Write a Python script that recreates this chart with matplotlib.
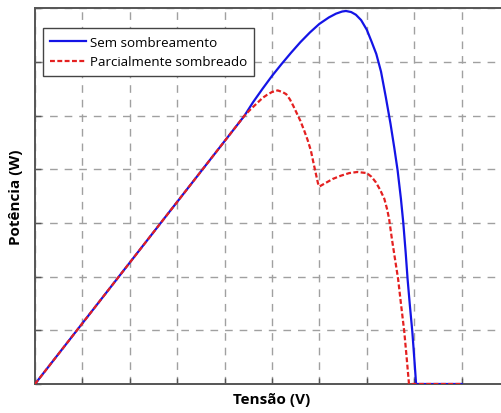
import matplotlib
matplotlib.use("Agg")
import matplotlib.pyplot as plt

# Curve data (x: voltage in grid units, y: power in grid units)
v_sem = [0.0, 4.42, 4.6, 4.8, 5.0, 5.2, 5.4, 5.6, 5.8, 6.0, 6.2, 6.35, 6.48,
         6.56, 6.67, 6.77, 6.88, 7.0, 7.1, 7.2, 7.3, 7.4, 7.5, 7.58,
         7.65, 7.72, 7.77, 7.82, 7.86, 7.91, 7.96, 8.0, 8.04, 9.0]
p_sem = [0.0, 5.0, 5.25, 5.5, 5.74, 5.96, 6.17, 6.37, 6.55, 6.71, 6.83, 6.9, 6.94,
         6.95, 6.93, 6.88, 6.78, 6.6, 6.38, 6.15, 5.82, 5.35, 4.85, 4.4,
         3.98, 3.45, 3.0, 2.45, 1.96, 1.45, 0.98, 0.5, 0.0, 0.0]

v_parc = [0.0, 4.42, 4.55, 4.67, 4.8, 4.9, 5.0, 5.12, 5.22, 5.3, 5.38, 5.45, 5.52,
          5.6, 5.68, 5.75, 5.82, 5.88, 5.93, 5.97, 6.0, 6.1, 6.28, 6.45, 6.63, 6.8,
          7.0, 7.1, 7.19, 7.28, 7.37, 7.43, 7.47, 7.53, 7.6, 7.66, 7.72, 7.79, 7.84,
          7.89, 9.0]
p_parc = [0.0, 5.0, 5.12, 5.22, 5.33, 5.39, 5.44, 5.47, 5.44, 5.4, 5.3, 5.18, 5.05,
          4.9, 4.72, 4.55, 4.35, 4.1, 3.9, 3.74, 3.68, 3.73, 3.82, 3.88, 3.93, 3.95,
          3.93, 3.86, 3.76, 3.62, 3.45, 3.25, 3.08, 2.7, 2.3, 1.96, 1.5, 0.98, 0.5,
          0.0, 0.0]

labels = ["Sem sombreamento", "Parcialmente sombreado"]
xlabel = "Tensão (V)"
ylabel = "Potência (W)"
xticks = list(range(0, 11))
yticks = list(range(0, 8))

fig = plt.figure(figsize=(5.02, 4.14), dpi=100)
ax = fig.add_axes([35/502, 29/414, 474/502, 375.7/414])

ax.plot(v_sem, p_sem, color="#1414e6", lw=1.6, label=labels[0], zorder=3,
        solid_joinstyle="round")
ax.plot(v_parc, p_parc, color="#e42020", lw=1.6, ls=(0, (2.2, 1.1)),
        label=labels[1], zorder=4)

ax.set_xlim(0, 10)
ax.set_ylim(0, 7)
ax.set_xticks(xticks)
ax.set_yticks(yticks)
ax.set_xticklabels([])
ax.set_yticklabels([])
ax.tick_params(direction="in", length=4, width=1, color="#555555")
ax.grid(True, color="#a0a0a0", ls=(0, (5.5, 5)), lw=1.0)
for s in ax.spines.values():
    s.set_color("#555555")
    s.set_linewidth(1.4)

ax.set_xlabel(xlabel, fontsize=11, fontweight="bold", family="Open Sans", labelpad=2)
ax.set_ylabel(ylabel, fontsize=11, fontweight="bold", family="Open Sans", labelpad=5)

leg = ax.legend(loc="upper left", bbox_to_anchor=(8/474, 1 - 20/375.7),
                frameon=True, fancybox=False, handlelength=2.7,
                handletextpad=0.25, borderpad=0.55, labelspacing=0.5,
                borderaxespad=0, prop={"family": "Open Sans", "size": 9.6})
leg.get_frame().set_edgecolor("#444444")
leg.get_frame().set_linewidth(1.0)
leg.get_frame().set_alpha(1)

fig.savefig("out.png", dpi=100)
